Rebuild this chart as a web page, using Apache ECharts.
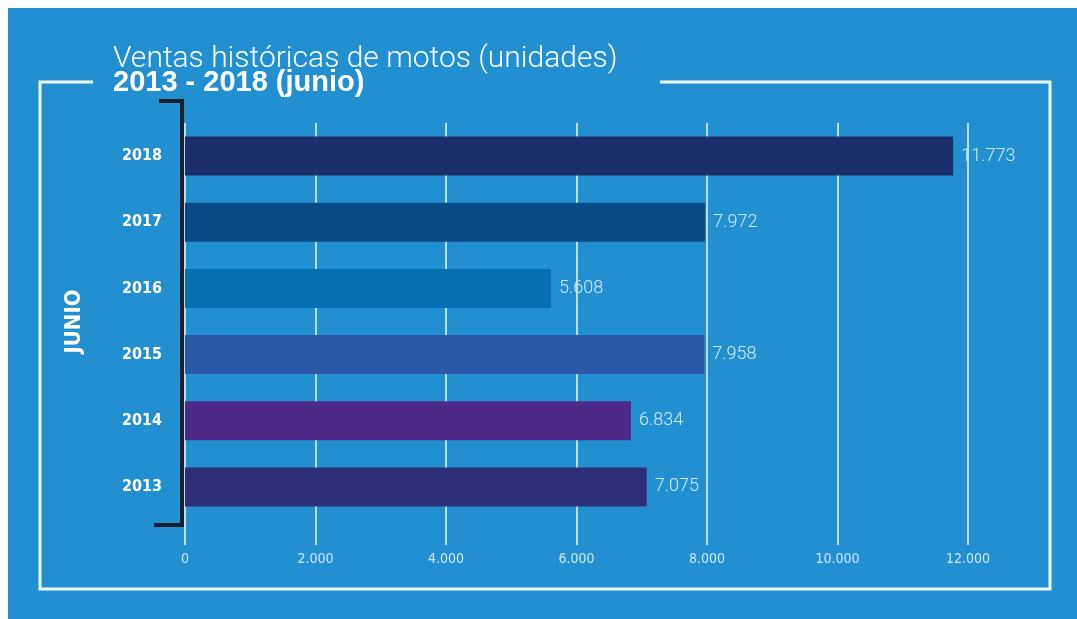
<!DOCTYPE html>
<html>
<head>
<meta charset="utf-8">
<script src="https://cdn.jsdelivr.net/npm/echarts@6/dist/echarts.min.js"></script>
<style>
  html, body { margin: 0; padding: 0; background: #ffffff; }
  #main { width: 1077px; height: 619px; }
</style>
</head>
<body>
<div id="main"></div>
<script>
// data, bottom to top as echarts draws a category y axis
var years = ['2013', '2014', '2015', '2016', '2017', '2018'];
var ventas = [7075, 6834, 7958, 5608, 7972, 11773];
var barColors = ['#2e2d78', '#4b2a8a', '#2a58a6', '#0670b0', '#064a86', '#1a2f6b'];
var xTicks = [0, 2000, 4000, 6000, 8000, 10000, 12000];

var azul = '#2290d0';
var narrow = "'Liberation Sans Narrow', 'DejaVu Sans Condensed', 'Liberation Sans', sans-serif";

function puntos(v) {
    return String(v).replace(/\B(?=(\d{3})+(?!\d))/g, '.');
}

var myChart = echarts.init(document.getElementById('main'));

var source = [];
for (var i = 0; i < years.length; i++) {
    source.push({ value: ventas[i], itemStyle: { color: barColors[i] } });
}

var option = {
    backgroundColor: '#ffffff',
    title: {
        text: 'Ventas históricas de motos (unidades)',
        subtext: '2013 - 2018 (junio)',
        left: 108,
        top: 39,
        itemGap: -6,
        textStyle: {
            color: '#ffffff',
            fontSize: 30,
            fontWeight: 300,
            fontFamily: "Roboto, 'Liberation Sans', sans-serif"
        },
        subtextStyle: {
            color: '#ffffff',
            fontSize: 29,
            fontWeight: 'bold',
            fontFamily: "'Liberation Sans', Arial, sans-serif"
        }
    },
    graphic: [
        {
            type: 'rect', z: -10, silent: true,
            shape: { x: 8, y: 8, width: 1069, height: 611 },
            style: { fill: azul }
        },
        {
            // marco blanco con hueco para el titulo
            type: 'polyline', z: -5, silent: true,
            shape: { points: [[93, 82], [40, 82], [40, 589], [1050, 589], [1050, 82], [660, 82]] },
            style: { stroke: '#eef8ff', lineWidth: 3, fill: null }
        },
        {
            // corchete negro del eje
            type: 'polyline', z: 10, silent: true,
            shape: { points: [[159, 101], [182, 101], [182, 525], [154, 525]] },
            style: { stroke: '#1b1d2b', lineWidth: 4, fill: null }
        }
    ],
    grid: {
        left: 185,
        right: 109,
        top: 123,
        height: 397
    },
    xAxis: {
        type: 'value',
        min: xTicks[0],
        max: xTicks[xTicks.length - 1],
        interval: xTicks[1] - xTicks[0],
        axisLine: { show: false },
        axisTick: {
            show: true,
            length: 25,
            lineStyle: { color: '#eef8ff', width: 1.5 }
        },
        splitLine: {
            show: true,
            lineStyle: { color: '#eef8ff', width: 1.5 }
        },
        axisLabel: {
            color: '#cfe8f8',
            fontSize: 14,
            margin: 32,
            fontFamily: narrow,
            formatter: function (v) { return puntos(v); }
        }
    },
    yAxis: {
        type: 'category',
        data: years,
        name: 'JUNIO',
        nameLocation: 'middle',
        nameRotate: 90,
        nameGap: 100,
        nameTextStyle: {
            color: '#ffffff',
            fontSize: 22,
            fontWeight: 'bold',
            fontFamily: narrow
        },
        axisLine: { show: false },
        axisTick: { show: false },
        axisLabel: {
            color: '#ffffff',
            fontSize: 16,
            fontWeight: 'bold',
            margin: 23,
            fontFamily: narrow
        }
    },
    series: [
        {
            name: 'Ventas',
            type: 'bar',
            barWidth: 39,
            data: source,
            label: {
                show: true,
                position: 'right',
                distance: 8,
                color: '#d8ecfa',
                fontSize: 18,
                fontFamily: "Roboto, 'Liberation Sans', sans-serif",
                fontWeight: 300,
                formatter: function (p) { return puntos(p.value); }
            }
        }
    ]
};

myChart.setOption(option);
</script>
</body>
</html>
